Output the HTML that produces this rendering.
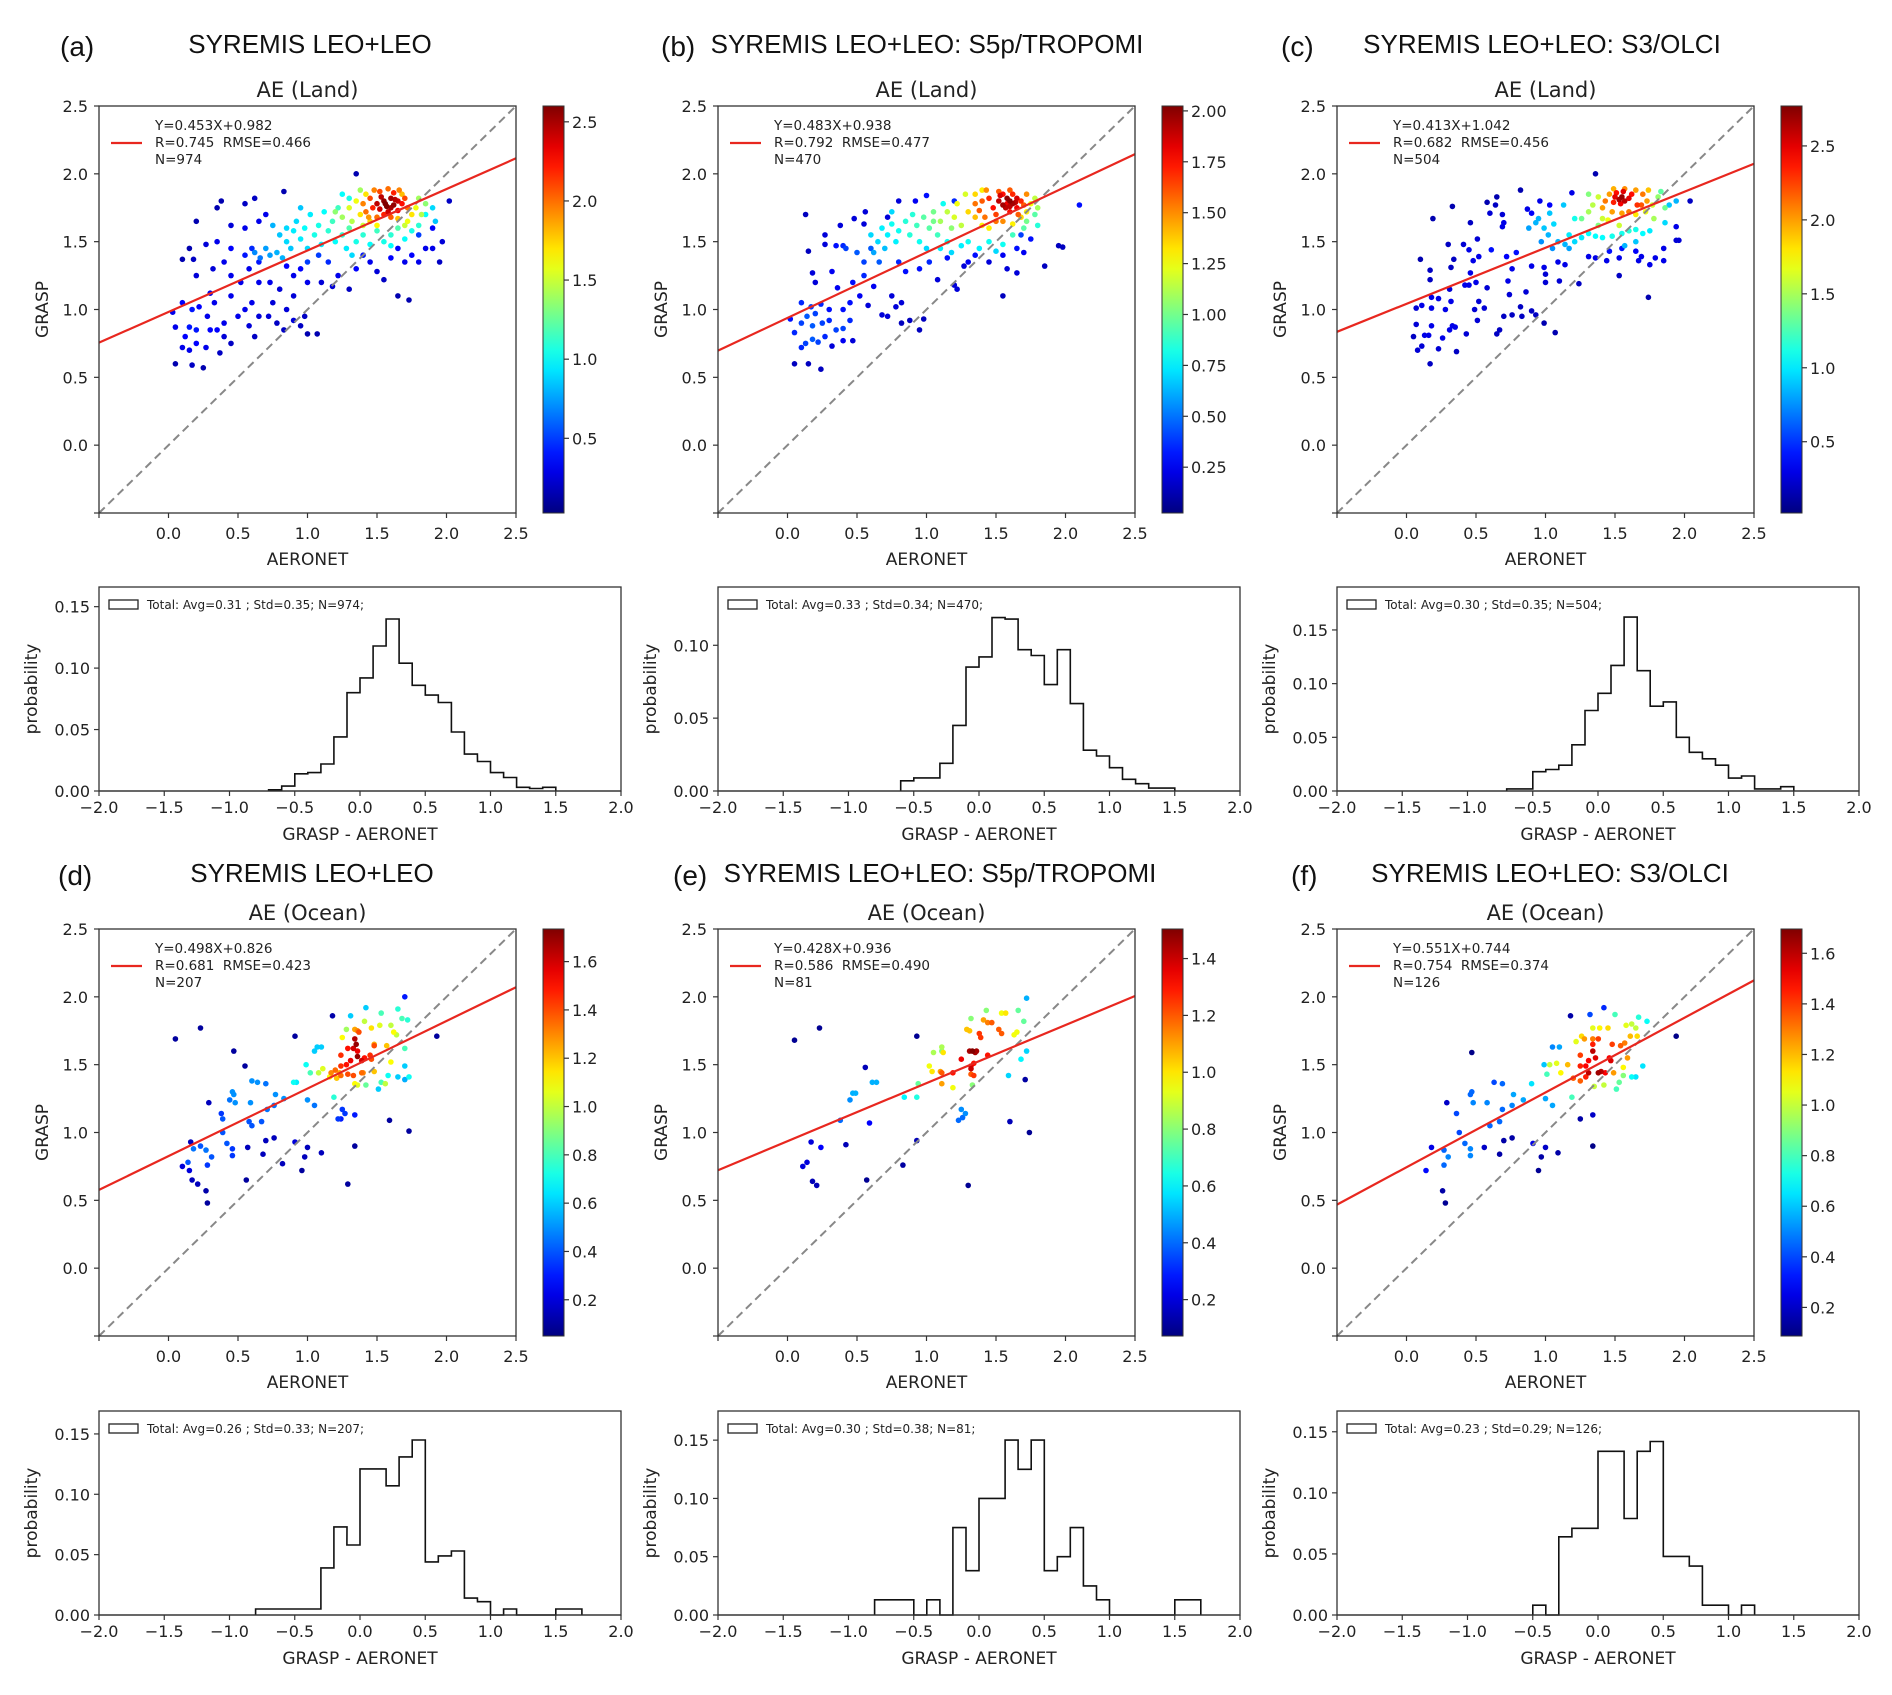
<!DOCTYPE html>
<html><head><meta charset="utf-8">
<style>
html,body{margin:0;padding:0;background:#fff;}
svg{display:block;}
</style></head>
<body>
<svg id="fig" width="1892" height="1695" viewBox="0 0 1892 1695" xmlns="http://www.w3.org/2000/svg"></svg>
<script>
// ---------- DATA ----------
const xTicks=[0,0.5,1,1.5,2,2.5];
const yTicks=[0,0.5,1,1.5,2,2.5];
const histXTicks=[-2,-1.5,-1,-0.5,0,0.5,1,1.5,2];

const ptsA=[[0.05,0.6,0.15],[0.17,0.59,0.2],[0.25,0.57,0.15],[0.37,0.68,0.2],[0.1,0.72,0.3],[0.15,0.7,0.3],[0.2,0.75,0.35],[0.27,0.72,0.3],[0.05,0.87,0.3],[0.12,0.8,0.35],[0.15,0.87,0.4],[0.2,0.85,0.4],[0.3,0.85,0.35],[0.35,0.85,0.35],[0.4,0.8,0.25],[0.45,0.75,0.2],[0.03,0.98,0.3],[0.1,1.05,0.35],[0.17,1.0,0.4],[0.22,1.02,0.35],[0.28,0.95,0.3],[0.33,1.05,0.3],[0.4,0.9,0.3],[0.5,0.95,0.3],[0.55,1.0,0.3],[0.58,0.88,0.25],[0.62,0.8,0.2],[0.65,0.95,0.25],[0.72,0.95,0.25],[0.78,0.9,0.2],[0.83,0.85,0.2],[0.9,0.92,0.25],[0.95,0.88,0.2],[1.0,0.82,0.15],[1.07,0.82,0.15],[0.98,0.95,0.2],[0.85,1.0,0.25],[0.75,1.05,0.25],[0.6,1.05,0.3],[0.45,1.1,0.3],[0.3,1.12,0.3],[0.2,1.25,0.25],[0.18,1.37,0.2],[0.15,1.45,0.15],[0.1,1.37,0.15],[0.32,1.3,0.25],[0.45,1.25,0.3],[0.52,1.2,0.3],[0.58,1.3,0.3],[0.65,1.2,0.3],[0.73,1.2,0.3],[0.8,1.15,0.25],[0.9,1.25,0.3],[1.0,1.2,0.3],[1.1,1.2,0.25],[1.18,1.17,0.25],[1.3,1.15,0.2],[1.22,1.25,0.3],[0.95,1.3,0.35],[0.85,1.32,0.35],[0.65,1.35,0.4],[0.55,1.4,0.4],[0.45,1.45,0.35],[0.35,1.5,0.3],[0.27,1.48,0.25],[0.2,1.65,0.15],[0.35,1.75,0.15],[0.38,1.8,0.15],[0.55,1.78,0.2],[0.62,1.82,0.2],[0.83,1.87,0.15],[0.65,1.65,0.3],[0.55,1.6,0.3],[0.45,1.62,0.25],[0.7,1.7,0.3],[0.4,1.35,0.3],[0.6,1.45,0.45],[1.35,2.0,0.15],[1.45,1.35,0.3],[1.5,1.28,0.25],[1.55,1.22,0.2],[1.65,1.45,0.35],[1.7,1.35,0.3],[1.75,1.4,0.35],[1.8,1.35,0.3],[1.85,1.45,0.3],[1.9,1.6,0.35],[1.95,1.35,0.2],[1.97,1.5,0.25],[2.02,1.8,0.2],[1.65,1.1,0.15],[1.73,1.07,0.15],[1.4,1.4,0.4],[1.35,1.3,0.35],[1.6,1.38,0.35],[1.8,1.55,0.5],[1.9,1.45,0.3],[1.0,1.35,0.5],[1.08,1.4,0.5],[0.9,1.1,0.25],[1.15,1.35,0.45],
[0.62,1.42,0.7],[0.66,1.38,0.65],[0.7,1.45,0.75],[0.73,1.4,0.75],[0.78,1.42,0.8],[0.82,1.38,0.8],[0.85,1.5,0.9],[0.88,1.45,0.85],[0.9,1.58,0.95],[0.92,1.65,0.9],[0.95,1.52,0.95],[0.98,1.6,1.0],[1.0,1.45,0.9],[1.02,1.7,0.95],[1.05,1.55,1.05],[1.08,1.62,1.05],[1.1,1.48,0.95],[1.12,1.72,1.0],[1.15,1.58,1.1],[1.18,1.65,1.15],[1.2,1.5,1.0],[1.22,1.75,1.15],[1.25,1.55,1.1],[1.28,1.45,0.95],[1.3,1.6,1.2],[1.35,1.5,1.05],[1.4,1.55,1.1],[1.45,1.48,1.0],[1.5,1.58,1.15],[1.55,1.5,1.05],[1.6,1.55,1.1],[1.65,1.6,1.2],[1.7,1.52,1.0],[1.75,1.58,1.05],[1.8,1.62,1.1],[1.85,1.7,1.0],[1.9,1.75,0.9],[1.92,1.65,0.85],[0.8,1.55,0.85],[0.75,1.62,0.8],[1.32,1.4,0.9],[1.6,1.47,1.0],[0.95,1.75,0.85],[1.25,1.85,1.0],[1.3,1.82,1.05],[0.85,1.6,0.9],
[1.2,1.72,1.35],[1.25,1.68,1.4],[1.3,1.75,1.55],[1.32,1.65,1.45],[1.35,1.8,1.6],[1.38,1.7,1.7],[1.4,1.62,1.5],[1.42,1.85,1.7],[1.45,1.65,1.75],[1.75,1.7,1.7],[1.78,1.75,1.6],[1.8,1.82,1.4],[1.82,1.7,1.45],[1.72,1.65,1.6],[1.68,1.85,1.8],[1.7,1.62,1.5],[1.5,1.62,1.65],[1.38,1.88,1.4],[1.85,1.78,1.35],[1.65,1.67,1.8],
[1.4,1.78,1.95],[1.42,1.72,2.0],[1.45,1.82,2.1],[1.47,1.75,2.2],[1.5,1.68,2.0],[1.52,1.87,2.1],[1.55,1.7,2.2],[1.6,1.68,2.05],[1.62,1.86,2.2],[1.65,1.73,2.3],[1.68,1.78,2.25],[1.7,1.82,2.1],[1.72,1.75,2.0],[1.48,1.88,1.95],[1.58,1.89,2.0],[1.44,1.68,1.9],[1.66,1.88,1.95],
[1.5,1.78,2.45],[1.52,1.74,2.4],[1.55,1.8,2.55],[1.57,1.76,2.6],[1.6,1.82,2.5],[1.62,1.77,2.55],[1.58,1.72,2.4],[1.53,1.83,2.45],[1.65,1.8,2.4],[1.56,1.78,2.6],[1.6,1.75,2.5],[1.63,1.81,2.45]];

const ptsB=[[0.02,0.93,0.3],[0.05,0.83,0.35],[0.05,0.6,0.15],[0.15,0.6,0.15],[0.24,0.56,0.15],[0.1,0.72,0.35],[0.13,0.75,0.4],[0.18,0.78,0.45],[0.22,0.76,0.4],[0.27,0.8,0.35],[0.1,0.9,0.4],[0.14,0.95,0.45],[0.18,0.88,0.45],[0.2,0.97,0.4],[0.25,0.9,0.4],[0.3,0.92,0.35],[0.35,0.85,0.4],[0.4,0.86,0.4],[0.45,0.92,0.35],[0.4,0.77,0.25],[0.32,0.73,0.2],[0.47,0.77,0.2],[0.1,1.05,0.35],[0.17,1.02,0.4],[0.24,1.04,0.35],[0.3,1.0,0.3],[0.4,1.0,0.3],[0.45,1.05,0.3],[0.52,1.1,0.25],[0.58,1.03,0.2],[0.68,0.96,0.2],[0.72,0.95,0.2],[0.82,0.9,0.15],[0.88,0.92,0.15],[0.95,0.85,0.15],[0.98,0.93,0.15],[0.82,1.05,0.2],[0.78,1.02,0.2],[0.36,1.16,0.25],[0.2,1.2,0.2],[0.18,1.27,0.2],[0.32,1.28,0.25],[0.47,1.2,0.3],[0.55,1.25,0.35],[0.62,1.17,0.25],[0.66,1.35,0.45],[0.75,1.1,0.2],[0.85,1.28,0.3],[0.95,1.3,0.3],[1.02,1.35,0.35],[1.08,1.22,0.2],[1.2,1.18,0.2],[1.22,1.15,0.2],[1.35,1.4,0.3],[1.45,1.35,0.2],[1.58,1.3,0.2],[1.65,1.27,0.2],[1.85,1.32,0.15],[1.95,1.47,0.15],[1.98,1.46,0.15],[1.7,1.42,0.25],[1.65,1.45,0.3],[1.75,1.52,0.3],[1.55,1.4,0.25],[1.3,1.35,0.25],[1.15,1.38,0.3],[0.8,1.35,0.35],[0.6,1.45,0.45],[0.42,1.45,0.4],[0.27,1.48,0.2],[0.15,1.43,0.15],[0.27,1.55,0.2],[0.35,1.47,0.3],[0.48,1.67,0.2],[0.55,1.63,0.2],[0.38,1.62,0.2],[0.13,1.7,0.15],[0.4,1.47,0.35],[0.56,1.72,0.2],[0.8,1.8,0.2],[0.72,1.68,0.2],[0.92,1.8,0.25],[1.0,1.84,0.3],[1.2,1.8,0.35],[1.55,1.1,0.15],[2.1,1.77,0.3],[1.68,1.55,0.4],[0.55,1.35,0.4],[0.5,1.42,0.45],[1.27,1.32,0.2],
[0.6,1.55,0.7],[0.65,1.5,0.7],[0.68,1.6,0.75],[0.72,1.55,0.75],[0.75,1.63,0.8],[0.78,1.5,0.75],[0.8,1.58,0.8],[0.85,1.65,0.85],[0.88,1.55,0.85],[0.9,1.7,0.85],[0.93,1.62,0.9],[0.95,1.5,0.8],[0.98,1.68,0.95],[1.02,1.6,0.95],[1.05,1.72,1.0],[1.08,1.55,0.9],[1.1,1.45,0.75],[1.15,1.5,0.8],[1.18,1.42,0.7],[1.25,1.47,0.75],[1.3,1.5,0.8],[1.38,1.45,0.75],[1.45,1.5,0.8],[1.5,1.43,0.7],[1.55,1.48,0.8],[1.62,1.55,0.9],[1.7,1.6,0.95],[1.78,1.7,0.95],[1.8,1.62,0.85],[1.72,1.65,1.0],[0.7,1.45,0.65],[0.62,1.42,0.6],[0.75,1.72,0.7],[1.12,1.78,0.8],[1.0,1.45,0.7],
[1.1,1.65,1.1],[1.15,1.72,1.15],[1.2,1.68,1.2],[1.22,1.78,1.25],[1.25,1.62,1.15],[1.28,1.85,1.2],[1.3,1.72,1.35],[1.35,1.68,1.4],[1.4,1.62,1.3],[1.45,1.6,1.3],[1.72,1.72,1.3],[1.75,1.78,1.25],[1.78,1.82,1.15],[1.68,1.68,1.35],[1.62,1.63,1.3],[1.35,1.85,1.35],[1.18,1.6,1.05],[1.05,1.65,1.0],[1.4,1.88,1.3],[1.8,1.75,1.1],
[1.35,1.78,1.55],[1.38,1.73,1.6],[1.42,1.68,1.55],[1.45,1.82,1.7],[1.48,1.75,1.75],[1.5,1.7,1.65],[1.52,1.87,1.6],[1.55,1.65,1.5],[1.58,1.78,1.8],[1.6,1.72,1.75],[1.62,1.85,1.7],[1.65,1.75,1.8],[1.68,1.8,1.7],[1.7,1.77,1.6],[1.72,1.85,1.5],[1.5,1.65,1.55],[1.43,1.88,1.5],[1.55,1.85,1.75],[1.6,1.88,1.6],[1.66,1.7,1.6],[1.4,1.8,1.6],
[1.52,1.8,1.9],[1.55,1.77,1.95],[1.58,1.82,2.0],[1.62,1.78,1.95],[1.6,1.8,2.0],[1.57,1.75,1.9],[1.65,1.82,1.85],[1.53,1.84,1.85],[1.6,1.76,1.9],[1.64,1.79,1.9]];

const ptsC=[[0.10,1.37,0.15],[0.17,1.29,0.2],[0.17,1.22,0.2],[0.07,1.01,0.25],[0.11,1.03,0.3],[0.18,1.09,0.3],[0.23,1.08,0.3],[0.18,1.01,0.3],[0.28,1.0,0.3],[0.07,0.89,0.25],[0.18,0.88,0.3],[0.05,0.8,0.2],[0.13,0.81,0.3],[0.16,0.81,0.3],[0.08,0.7,0.25],[0.11,0.73,0.25],[0.23,0.71,0.25],[0.26,0.79,0.3],[0.17,0.6,0.2],[0.33,0.88,0.3],[0.31,0.85,0.3],[0.35,0.87,0.3],[0.36,0.69,0.2],[0.43,0.82,0.25],[0.32,1.06,0.3],[0.31,1.15,0.25],[0.32,1.31,0.2],[0.34,1.37,0.2],[0.30,1.48,0.2],[0.33,1.76,0.15],[0.19,1.67,0.15],[0.46,1.64,0.2],[0.41,1.48,0.25],[0.45,1.44,0.3],[0.51,1.52,0.25],[0.52,1.39,0.3],[0.48,1.36,0.3],[0.46,1.27,0.3],[0.42,1.18,0.3],[0.45,1.18,0.3],[0.5,1.2,0.3],[0.58,1.16,0.25],[0.52,1.06,0.25],[0.56,1.01,0.25],[0.49,1.0,0.25],[0.51,0.92,0.25],[0.65,0.82,0.2],[0.67,0.85,0.2],[0.7,0.95,0.2],[0.76,0.96,0.2],[0.83,0.95,0.2],[0.82,1.02,0.2],[0.9,0.99,0.2],[0.93,0.96,0.2],[0.99,0.9,0.15],[1.07,0.83,0.15],[0.74,1.11,0.25],[0.73,1.21,0.3],[0.76,1.3,0.3],[0.86,1.13,0.25],[0.9,1.32,0.3],[0.99,1.31,0.3],[1.0,1.2,0.25],[1.0,1.26,0.25],[1.1,1.21,0.25],[1.09,1.35,0.3],[1.14,1.33,0.3],[1.24,1.19,0.2],[1.31,1.39,0.3],[1.36,1.38,0.3],[1.44,1.36,0.3],[1.53,1.38,0.3],[1.53,1.25,0.2],[1.74,1.09,0.15],[1.67,1.36,0.3],[1.75,1.33,0.3],[1.79,1.38,0.3],[1.85,1.36,0.3],[1.85,1.45,0.3],[1.94,1.51,0.25],[1.96,1.51,0.25],[1.94,1.61,0.3],[2.04,1.8,0.2],[1.36,2.0,0.15],[0.82,1.88,0.15],[0.65,1.83,0.15],[0.64,1.77,0.2],[0.58,1.79,0.15],[0.6,1.71,0.25],[0.69,1.7,0.25],[0.7,1.64,0.3],[0.69,1.61,0.3],[0.87,1.74,0.3],[0.9,1.71,0.35],[0.96,1.8,0.3],[1.03,1.77,0.35],[1.19,1.86,0.3],[1.55,1.45,0.4],[1.65,1.43,0.35],[1.69,1.39,0.3],[0.79,1.42,0.4],[0.72,1.39,0.35],[0.61,1.44,0.4],[1.46,1.43,0.4],
[0.88,1.6,0.8],[0.93,1.64,0.85],[0.95,1.67,0.85],[0.99,1.6,0.9],[1.02,1.55,0.85],[1.06,1.63,0.95],[1.09,1.5,0.85],[1.14,1.48,0.85],[1.17,1.55,1.0],[1.21,1.5,0.95],[1.26,1.53,1.0],[1.31,1.56,1.05],[1.36,1.54,1.05],[1.41,1.53,1.05],[1.48,1.54,1.1],[1.55,1.56,1.1],[1.6,1.58,1.15],[1.65,1.59,1.1],[1.70,1.56,1.05],[1.75,1.58,1.0],[1.86,1.64,0.95],[1.89,1.77,0.9],[1.94,1.8,0.85],[0.97,1.5,0.75],[1.05,1.45,0.75],[1.17,1.45,0.8],[1.13,1.77,0.9],[1.21,1.67,1.1],[1.03,1.71,0.9],[1.65,1.5,0.9],[1.57,1.47,0.85],
[1.26,1.67,1.35],[1.31,1.72,1.5],[1.34,1.77,1.55],[1.31,1.85,1.4],[1.38,1.83,1.6],[1.41,1.67,1.6],[1.45,1.66,1.7],[1.65,1.7,1.8],[1.72,1.72,1.7],[1.77,1.77,1.6],[1.81,1.83,1.45],[1.86,1.75,1.35],[1.78,1.67,1.5],[1.38,1.62,1.4],[1.53,1.62,1.6],[1.83,1.87,1.3],
[1.41,1.75,2.0],[1.43,1.8,2.1],[1.46,1.85,2.0],[1.49,1.89,1.95],[1.57,1.89,2.05],[1.65,1.88,2.0],[1.70,1.85,2.1],[1.73,1.8,2.0],[1.60,1.72,2.1],[1.55,1.71,2.0],[1.48,1.72,2.0],[1.66,1.77,2.3],[1.69,1.77,2.2],[1.74,1.88,1.9],
[1.5,1.83,2.5],[1.53,1.81,2.65],[1.55,1.83,2.7],[1.57,1.8,2.6],[1.6,1.82,2.5],[1.54,1.78,2.45],[1.51,1.86,2.4],[1.62,1.85,2.4],[1.56,1.87,2.5],[1.49,1.79,2.35]];

const ptsD=[[0.05,1.69,0.1],[0.23,1.77,0.1],[0.47,1.6,0.1],[0.55,1.49,0.1],[0.91,1.71,0.1],[1.18,1.86,0.12],[1.93,1.71,0.1],[1.70,2.0,0.3],[1.59,1.09,0.1],[1.73,1.01,0.1],[1.34,0.90,0.1],[1.29,0.62,0.1],[0.56,0.65,0.1],[0.27,0.57,0.12],[0.28,0.48,0.1],[0.21,0.62,0.15],[0.17,0.65,0.15],[0.15,0.72,0.2],[0.10,0.75,0.2],[0.16,0.93,0.15],[0.29,1.22,0.15],[0.82,0.77,0.15],[0.96,0.72,0.1],[0.98,0.82,0.15],[1.0,0.89,0.15],[1.1,0.85,0.15],[0.91,0.93,0.2],[0.76,0.96,0.15],[0.7,0.94,0.15],[0.68,0.84,0.15],[0.57,0.89,0.15],
[0.14,0.78,0.4],[0.18,0.88,0.45],[0.23,0.90,0.4],[0.27,0.87,0.45],[0.31,0.82,0.4],[0.28,0.76,0.35],[0.39,1.0,0.4],[0.39,1.10,0.4],[0.38,1.14,0.35],[0.42,0.92,0.4],[0.46,0.88,0.35],[0.46,0.83,0.35],[0.58,1.08,0.4],[0.6,1.05,0.4],[0.67,1.08,0.4],[0.71,1.17,0.45],[0.76,1.2,0.45],[0.77,1.28,0.5],[0.83,1.25,0.5],[0.59,1.22,0.5],[0.48,1.22,0.5],[0.44,1.24,0.45],[0.46,1.30,0.5],[0.47,1.28,0.5],[0.6,1.38,0.5],[0.64,1.37,0.5],[0.7,1.36,0.45],[1.25,1.17,0.35],[1.27,1.14,0.35],[1.24,1.10,0.3],[1.22,1.10,0.35],[1.34,1.13,0.3],[1.05,1.20,0.45],[1.0,1.24,0.5],
[0.92,1.37,0.65],[0.9,1.37,0.7],[0.99,1.50,0.7],[1.07,1.63,0.6],[1.05,1.6,0.6],[1.1,1.63,0.6],[1.31,1.86,0.6],[1.42,1.92,0.6],[1.65,1.91,0.75],[1.68,1.84,0.8],[1.72,1.83,0.75],[1.70,1.62,0.8],[1.70,1.49,0.6],[1.70,1.39,0.55],[1.65,1.41,0.6],[1.73,1.41,0.7],[1.51,1.32,0.6],[1.58,1.42,0.7],[1.53,1.37,0.8],[1.19,1.26,0.75],[1.42,1.35,0.85],[1.53,1.88,0.8],[1.02,1.44,0.8],
[1.08,1.44,1.0],[1.11,1.47,1.05],[1.16,1.41,1.1],[1.25,1.70,1.1],[1.28,1.76,0.95],[1.41,1.82,1.0],[1.46,1.77,1.15],[1.52,1.79,1.05],[1.6,1.79,1.0],[1.62,1.74,1.1],[1.64,1.72,1.0],[1.57,1.64,1.2],[1.48,1.65,1.25],[1.34,1.36,1.1],[1.36,1.35,1.05],[1.21,1.4,1.2],[1.23,1.44,1.25],[1.40,1.44,1.3],[1.48,1.45,1.2],[1.56,1.36,1.0],[1.6,1.52,1.1],[1.34,1.76,1.25],[1.36,1.75,1.3],
[1.24,1.57,1.45],[1.29,1.62,1.5],[1.33,1.62,1.6],[1.35,1.65,1.7],[1.34,1.69,1.65],[1.36,1.6,1.55],[1.36,1.56,1.7],[1.24,1.49,1.45],[1.28,1.5,1.5],[1.31,1.53,1.55],[1.29,1.43,1.4],[1.33,1.42,1.4],[1.39,1.44,1.35],[1.41,1.55,1.5],[1.45,1.57,1.45],[1.46,1.54,1.4],[1.37,1.74,1.4],[1.2,1.46,1.35],[1.24,1.42,1.35],[1.17,1.44,1.3],[1.48,1.64,1.4],[1.39,1.53,1.6]];

const ptsE=[[0.05,1.68,0.1],[0.23,1.77,0.1],[0.93,1.71,0.1],[0.56,1.48,0.15],[1.71,1.39,0.12],[1.6,1.08,0.15],[1.74,1.0,0.1],[1.3,0.61,0.1],[0.57,0.65,0.1],[0.83,0.76,0.12],[0.93,0.94,0.15],[0.42,0.91,0.15],[0.17,0.93,0.2],[0.24,0.89,0.25],[0.11,0.75,0.2],[0.14,0.78,0.2],[0.18,0.64,0.15],[0.21,0.61,0.15],[0.59,1.07,0.25],
[0.38,1.09,0.4],[0.45,1.24,0.45],[0.47,1.29,0.5],[0.49,1.29,0.5],[0.61,1.37,0.5],[0.64,1.37,0.5],[1.23,1.09,0.4],[1.26,1.11,0.4],[1.28,1.14,0.45],[1.25,1.17,0.45],[1.72,1.99,0.5],[1.59,1.42,0.55],
[0.84,1.26,0.6],[0.93,1.26,0.65],[0.94,1.36,0.75],[1.68,1.54,0.6],[1.72,1.6,0.55],[1.70,1.82,0.75],[1.66,1.90,0.75],[1.43,1.90,0.8],[1.32,1.84,0.8],[1.05,1.59,0.85],[1.11,1.6,0.8],[1.11,1.63,0.85],[1.33,1.35,0.8],
[1.02,1.49,0.95],[1.04,1.45,1.0],[1.12,1.59,1.0],[1.19,1.33,0.95],[1.10,1.45,1.1],[1.11,1.36,1.1],[1.29,1.76,1.05],[1.31,1.75,1.05],[1.41,1.83,1.1],[1.44,1.81,1.15],[1.47,1.81,1.2],[1.54,1.88,0.95],[1.57,1.88,1.0],[1.52,1.76,1.2],[1.54,1.73,1.2],[1.63,1.72,0.95],[1.65,1.74,0.95],[1.38,1.73,1.25],[1.39,1.7,1.25],
[1.19,1.44,1.3],[1.25,1.54,1.35],[1.32,1.49,1.35],[1.34,1.51,1.3],[1.32,1.43,1.2],[1.34,1.42,1.25],[1.44,1.57,1.3],[1.11,1.44,1.2],
[1.31,1.6,1.45],[1.33,1.6,1.5],[1.35,1.59,1.45],[1.36,1.6,1.45],[1.32,1.47,1.4]];

const ptsF=[[0.47,1.59,0.1],[1.18,1.86,0.15],[1.94,1.71,0.1],[1.25,1.10,0.15],[1.34,1.13,0.2],[1.34,0.90,0.1],[0.95,0.72,0.12],[0.97,0.82,0.15],[1.0,0.89,0.2],[1.09,0.85,0.15],[0.91,0.92,0.25],[0.76,0.96,0.15],[0.70,0.94,0.15],[0.67,0.84,0.15],[0.56,0.89,0.2],[0.26,0.57,0.15],[0.28,0.48,0.12],[0.14,0.72,0.3],[0.29,1.22,0.2],[0.18,0.89,0.25],
[0.36,1.14,0.4],[0.38,1.0,0.4],[0.42,0.92,0.45],[0.46,0.88,0.5],[0.46,0.83,0.5],[0.27,0.87,0.45],[0.3,0.82,0.5],[0.27,0.76,0.45],[0.58,1.22,0.5],[0.6,1.05,0.45],[0.67,1.08,0.45],[0.69,1.17,0.45],[0.76,1.2,0.5],[0.77,1.28,0.55],[0.84,1.24,0.55],[0.48,1.22,0.5],[0.46,1.28,0.45],[0.47,1.3,0.45],[0.63,1.37,0.4],[0.69,1.36,0.45],[1.32,1.87,0.4],[1.42,1.92,0.35],[1.05,1.20,0.55],[1.0,1.25,0.55],[1.05,1.63,0.5],[1.1,1.63,0.55],
[0.9,1.36,0.65],[0.99,1.5,0.6],[1.01,1.43,0.8],[1.19,1.26,0.8],[1.5,1.87,0.8],[1.67,1.85,0.75],[1.73,1.82,0.7],[1.7,1.49,0.65],[1.65,1.41,0.65],[1.62,1.41,0.7],[1.51,1.32,0.8],[1.53,1.37,0.85],[1.56,1.42,0.9],
[1.03,1.50,1.0],[1.08,1.51,1.05],[1.11,1.44,1.1],[1.16,1.5,1.2],[1.22,1.67,1.05],[1.26,1.71,1.15],[1.34,1.77,1.05],[1.39,1.77,1.1],[1.45,1.77,1.15],[1.58,1.79,1.05],[1.62,1.8,1.0],[1.65,1.77,1.0],[1.61,1.71,1.2],[1.66,1.71,1.15],[1.35,1.34,1.0],[1.42,1.35,1.0],[1.56,1.48,1.1],[1.59,1.55,1.25],[1.49,1.44,1.25],[1.28,1.69,1.25],[1.34,1.69,1.3],
[1.25,1.57,1.4],[1.31,1.53,1.5],[1.36,1.55,1.55],[1.34,1.6,1.6],[1.34,1.65,1.45],[1.38,1.69,1.4],[1.48,1.65,1.4],[1.46,1.55,1.5],[1.47,1.53,1.55],[1.25,1.49,1.45],[1.29,1.49,1.5],[1.2,1.4,1.35],[1.25,1.38,1.35],[1.31,1.44,1.6],[1.38,1.44,1.65],[1.40,1.45,1.6],[1.43,1.44,1.5],[1.54,1.64,1.35],[1.57,1.66,1.3],[1.29,1.41,1.45]];

const histA=[0.001,0.004,0.014,0.015,0.022,0.044,0.080,0.092,0.118,0.140,0.104,0.086,0.078,0.072,0.048,0.030,0.024,0.015,0.011,0.003,0.002,0.003];
const histB=[0.007,0.009,0.009,0.019,0.045,0.085,0.092,0.119,0.118,0.097,0.093,0.073,0.097,0.060,0.028,0.024,0.016,0.008,0.005,0.002,0.002];
const histC=[0.002,0.002,0.018,0.020,0.024,0.043,0.075,0.091,0.117,0.162,0.112,0.079,0.083,0.050,0.036,0.030,0.024,0.012,0.014,0.002,0.002,0.004];
const histD=[0.005,0.005,0.005,0.005,0.005,0.039,0.073,0.058,0.121,0.121,0.107,0.131,0.145,0.044,0.049,0.053,0.014,0.011,0,0.005,0,0,0,0.005,0.005];
const histE=[0.013,0.013,0.013,0,0.013,0,0.075,0.038,0.100,0.100,0.150,0.125,0.150,0.038,0.050,0.075,0.025,0.013,0,0,0,0,0,0.013,0.013];
const histF=[0.008,0,0.064,0.071,0.071,0.134,0.134,0.079,0.134,0.142,0.048,0.048,0.040,0.008,0.008,0,0.008];
const histStarts=[-0.7,-0.6,-0.7,-0.8,-0.8,-0.5];
const histYMax=[0.166,0.140,0.190,0.169,0.175,0.167];
const histYTicksA=[0,0.05,0.1,0.15];
const histYTicksB=[0,0.05,0.1];

const cbTicksA=[0.5,1.0,1.5,2.0,2.5];
const cbTicksB=[0.25,0.5,0.75,1.0,1.25,1.5,1.75,2.0];
const cbTicksD=[0.2,0.4,0.6,0.8,1.0,1.2,1.4,1.6];
const cbTicksE=[0.2,0.4,0.6,0.8,1.0,1.2,1.4];
const cbRanges=[[0.028,2.6],[0.025,2.024],[0.018,2.77],[0.05,1.735],[0.072,1.504],[0.087,1.696]];
const cbLabelsA=["0.5","1.0","1.5","2.0","2.5"];
const cbLabelsB=["0.25","0.50","0.75","1.00","1.25","1.50","1.75","2.00"];
const cbLabelsD=["0.2","0.4","0.6","0.8","1.0","1.2","1.4","1.6"];
const cbLabelsE=["0.2","0.4","0.6","0.8","1.0","1.2","1.4"];

const fitSlopes=[0.453,0.483,0.413,0.498,0.428,0.551];
const fitIntercepts=[0.982,0.938,1.042,0.826,0.936,0.744];
const fitR=["0.745","0.792","0.682","0.681","0.586","0.754"];
const fitRMSE=["0.466","0.477","0.456","0.423","0.490","0.374"];
const counts=["974","470","504","207","81","126"];
const histAvg=["0.31","0.33","0.30","0.26","0.30","0.23"];
const histStd=["0.35","0.34","0.35","0.33","0.38","0.29"];
const letters=["(a)","(b)","(c)","(d)","(e)","(f)"];
const titles=["SYREMIS LEO+LEO","SYREMIS LEO+LEO: S5p/TROPOMI","SYREMIS LEO+LEO: S3/OLCI","SYREMIS LEO+LEO","SYREMIS LEO+LEO: S5p/TROPOMI","SYREMIS LEO+LEO: S3/OLCI"];
const subtitles=["AE (Land)","AE (Land)","AE (Land)","AE (Ocean)","AE (Ocean)","AE (Ocean)"];

// ---------- LAYOUT ----------
const NS="http://www.w3.org/2000/svg";
const svg=document.getElementById('fig');
const colLeft=[99,718,1337];
const scTop=[106,929], SW=417, SH=407;
const hTop=[587,1411], HW=522, HH=204;
const titleY=[53,882], letterX=[[60,661,1281],[58,673,1291]], titleCX=[[310,927,1542],[312,940,1550]];
const TF='"DejaVu Sans", "Liberation Sans", sans-serif';
const AF='"Liberation Sans", Arial, sans-serif';

function mk(tag,attrs,parent){const e=document.createElementNS(NS,tag);for(const k in attrs)e.setAttribute(k,attrs[k]);(parent||svg).appendChild(e);return e;}
function txt(s,attrs,parent){const e=mk('text',attrs,parent);e.textContent=s;return e;}
function jet(t){t=Math.max(0,Math.min(1,t));const c=v=>Math.round(255*Math.max(0,Math.min(1,v)));return `rgb(${c(1.5-Math.abs(4*t-3))},${c(1.5-Math.abs(4*t-2))},${c(1.5-Math.abs(4*t-1))})`;}

const defs=mk('defs',{});
const grad=mk('linearGradient',{id:'jetg',x1:0,y1:1,x2:0,y2:0},defs);
for(let i=0;i<=20;i++){mk('stop',{offset:i/20,'stop-color':jet(i/20)},grad);}

const allPts=[ptsA,ptsB,ptsC,ptsD,ptsE,ptsF];
const allHist=[histA,histB,histC,histD,histE,histF];
const allCbT=[cbTicksA,cbTicksB,cbTicksA,cbTicksD,cbTicksE,cbTicksD];
const allCbL=[cbLabelsA,cbLabelsB,cbLabelsA,cbLabelsD,cbLabelsE,cbLabelsD];

for(let p=0;p<6;p++){
  const row=Math.floor(p/3), col=p%3;
  const L=colLeft[col], T=scTop[row];
  const g=mk('g',{});
  
  
  const lt=txt(letters[p],{x:letterX[row][col],y:titleY[row]+3,'font-family':AF,'font-size':28,fill:'#111'},g);
  
  
  const tt=txt(titles[p],{x:titleCX[row][col],y:titleY[row],'font-family':AF,'font-size':26,'text-anchor':'middle',fill:'#111'},g);
  
  
  const st=txt(subtitles[p],{x:L+SW/2,y:T-9,'font-family':TF,'font-size':21,'text-anchor':'middle',fill:'#222'},g);
  
  

  const sx=v=>L+(v+0.5)/3*SW, sy=v=>T+SH-(v+0.5)/3*SH;
  const sc=mk('g',{},g);
  
  
  const pts=allPts[p].slice().sort((a,b)=>a[2]-b[2]);
  const [cmin,cmax]=cbRanges[p];
  for(const q of pts){
    const c=mk('circle',{cx:sx(q[0]).toFixed(1),cy:sy(q[1]).toFixed(1),r:2.8,fill:jet((q[2]-cmin)/(cmax-cmin))},sc);
    
    
  }
  const d1=mk('line',{x1:sx(-0.5),y1:sy(-0.5),x2:sx(2.5),y2:sy(2.5),stroke:'#888','stroke-width':2,'stroke-dasharray':'8,5'},sc);
  
  
  const m=fitSlopes[p], b=fitIntercepts[p];
  const fl=mk('line',{x1:sx(-0.5),y1:sy(m*-0.5+b),x2:sx(2.5),y2:sy(m*2.5+b),stroke:'#e8271f','stroke-width':2.2},sc);
  
  
  const fr=mk('rect',{x:L,y:T,width:SW,height:SH,fill:'none',stroke:'#333','stroke-width':1.3},sc);
  
  
  for(const v of [-0.5].concat(xTicks)){
    mk('line',{x1:sx(v),y1:T+SH,x2:sx(v),y2:T+SH+5,stroke:'#333','stroke-width':1.2},sc);
    if(v>-0.5){const t=txt(v.toFixed(1),{x:sx(v),y:T+SH+26,'font-family':TF,'font-size':16,'text-anchor':'middle',fill:'#222'},sc);
      
      }
  }
  for(const v of [-0.5].concat(yTicks)){
    mk('line',{x1:L-5,y1:sy(v),x2:L,y2:sy(v),stroke:'#333','stroke-width':1.2},sc);
    if(v>-0.5){const t=txt(v.toFixed(1),{x:L-11,y:sy(v)+6,'font-family':TF,'font-size':16,'text-anchor':'end',fill:'#222'},sc);
      
      }
  }
  const xl=txt('AERONET',{x:L+SW/2,y:T+SH+52,'font-family':TF,'font-size':17,'text-anchor':'middle',fill:'#222'},sc);
  
  
  const yl=txt('GRASP',{x:0,y:0,'font-family':TF,'font-size':17,'text-anchor':'middle',fill:'#222',transform:`translate(${L-51},${T+SH/2}) rotate(-90)`},sc);
  
  
  const lg=mk('g',{},sc);
  
  
  mk('line',{x1:L+12,y1:T+37,x2:L+43,y2:T+37,stroke:'#e8271f','stroke-width':2.2},lg);
  const lx=L+56;
  txt(`Y=${m.toFixed(3)}X+${b.toFixed(3)}`,{x:lx,y:T+24,'font-family':TF,'font-size':13.5,fill:'#222'},lg);
  txt(`R=${fitR[p]}\u00a0 RMSE=${fitRMSE[p]}`,{x:lx,y:T+41,'font-family':TF,'font-size':13.5,fill:'#222'},lg);
  txt(`N=${counts[p]}`,{x:lx,y:T+58,'font-family':TF,'font-size':13.5,fill:'#222'},lg);

  const cbx=L+444;
  const cb=mk('g',{},g);
  
  
  mk('rect',{x:cbx,y:T,width:21,height:SH,fill:'url(#jetg)',stroke:'#333','stroke-width':1},cb);
  const cy=v=>T+SH-(v-cmin)/(cmax-cmin)*SH;
  allCbT[p].forEach((v,i)=>{
    mk('line',{x1:cbx+21,y1:cy(v),x2:cbx+26,y2:cy(v),stroke:'#333','stroke-width':1.2},cb);
    const t=txt(allCbL[p][i],{x:cbx+29,y:cy(v)+6,'font-family':TF,'font-size':16,fill:'#222'},cb);
    
    
  });

  const HT=hTop[row];
  const hg=mk('g',{},g);
  
  
  const ymax=histYMax[p];
  const hx=v=>L+(v+2)/4*HW, hy=v=>HT+HH-v/ymax*HH;
  const h=allHist[p], s0=histStarts[p];
  let d=`M${hx(s0).toFixed(1)},${hy(0).toFixed(1)}`;
  h.forEach((v,i)=>{const a=s0+i*0.1;d+=` L${hx(a).toFixed(1)},${hy(v).toFixed(1)} L${hx(a+0.1).toFixed(1)},${hy(v).toFixed(1)}`;});
  d+=` L${hx(s0+h.length*0.1).toFixed(1)},${hy(0).toFixed(1)}`;
  mk('line',{x1:L,y1:hy(0),x2:L+HW,y2:hy(0),stroke:'#999','stroke-width':1.5},hg);
  const hp=mk('path',{d:d,fill:'none',stroke:'#111','stroke-width':1.6},hg);
  
  
  mk('rect',{x:L,y:HT,width:HW,height:HH,fill:'none',stroke:'#333','stroke-width':1.3},hg);
  for(const v of histXTicks){
    mk('line',{x1:hx(v),y1:HT+HH,x2:hx(v),y2:HT+HH+5,stroke:'#333','stroke-width':1.2},hg);
    const t=txt((v<0?'\u2212':'')+Math.abs(v).toFixed(1),{x:hx(v),y:HT+HH+22,'font-family':TF,'font-size':16,'text-anchor':'middle',fill:'#222'},hg);
    
    
  }
  for(const v of (p===1?histYTicksB:histYTicksA)){
    mk('line',{x1:L-5,y1:hy(v),x2:L,y2:hy(v),stroke:'#333','stroke-width':1.2},hg);
    const t=txt(v.toFixed(2),{x:L-9,y:hy(v)+6,'font-family':TF,'font-size':16,'text-anchor':'end',fill:'#222'},hg);
    
    
  }
  const hxl=txt('GRASP - AERONET',{x:L+HW/2,y:HT+HH+49,'font-family':TF,'font-size':17,'text-anchor':'middle',fill:'#222'},hg);
  
  
  const hyl=txt('probability',{x:0,y:0,'font-family':TF,'font-size':17,'text-anchor':'middle',fill:'#222',transform:`translate(${L-62},${HT+HH/2}) rotate(-90)`},hg);
  
  
  const hl=mk('g',{},hg);
  
  
  mk('rect',{x:L+10,y:HT+13,width:29,height:9,fill:'none',stroke:'#222','stroke-width':1.3},hl);
  txt(`Total: Avg=${histAvg[p]} ; Std=${histStd[p]}; N=${counts[p]};`,{x:L+48,y:HT+22,'font-family':TF,'font-size':12,fill:'#222'},hl);
}
</script>
</body></html>
